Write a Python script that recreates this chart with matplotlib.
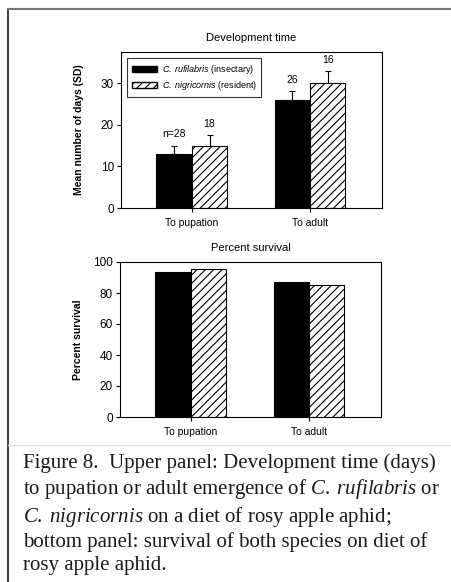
import matplotlib
matplotlib.use("Agg")
import matplotlib.pyplot as plt
from matplotlib.lines import Line2D
from matplotlib.patches import Patch
import numpy as np

# data
stages = ["To pupation", "To adult"]
dev_rufilabris = [13, 26]
dev_rufilabris_sd = [2.0, 2.1]
dev_nigricornis = [15, 30]
dev_nigricornis_sd = [2.6, 2.9]
dev_n_labels = [["n=28", "26"], ["18", "16"]]
surv_rufilabris = [93.5, 87]
surv_nigricornis = [95.3, 85]

# sf -> sans italic (legend), it -> serif italic (caption)
legend_labels = [r"$\mathsf{C.\;rufilabris}$ (insectary)",
                 r"$\mathsf{C.\;nigricornis}$ (resident)"]

caption = ("Figure 8.  Upper panel: Development time (days)\n"
           "to pupation or adult emergence of $\\mathit{C.\\;rufilabris}$ or\n"
           "$\\mathit{C.\\;nigricornis}$ on a diet of rosy apple aphid;\n"
           "bottom panel: survival of both species on diet of\n"
           "rosy apple aphid.")

plt.rcParams['font.family'] = ['Liberation Sans', 'DejaVu Sans']
plt.rcParams['mathtext.fontset'] = 'custom'
plt.rcParams['mathtext.it'] = 'Liberation Serif:italic'
plt.rcParams['mathtext.rm'] = 'Liberation Serif'
plt.rcParams['mathtext.sf'] = 'Liberation Sans:italic'
plt.rcParams['hatch.linewidth'] = 0.8

W, H = 451, 582
fig = plt.figure(figsize=(W / 100, H / 100), dpi=100)

def box(l, t, r, b):
    return [l / W, 1 - b / H, (r - l) / W, (b - t) / H]

x = np.arange(len(stages))
bw = 0.3

def draw_panel(ax, a, b, ylim, yticks, title, ylabel):
    ax.bar(x - bw / 2, a, bw, color="black", edgecolor="black", linewidth=0.8)
    ax.bar(x + bw / 2, b, bw, color="white", edgecolor="black",
           hatch="////", linewidth=0.8)
    ax.set_xlim(-0.6, 1.61)
    ax.set_ylim(*ylim)
    ax.set_yticks(yticks)
    ax.set_xticks(x)
    ax.set_xticklabels(stages, fontsize=7.5)
    ax.tick_params(axis="y", labelsize=8.5, length=3, width=0.8, pad=2)
    ax.tick_params(axis="x", length=3, width=0.8, pad=4)
    ax.set_title(title, fontsize=8, pad=8)
    ax.set_ylabel(ylabel, fontsize=7.5, fontweight="bold")
    ax.yaxis.set_label_coords(-37 / 261, 0.5)
    for s in ax.spines.values():
        s.set_linewidth(0.8)

# upper panel: development time
ax1 = fig.add_axes(box(121, 52, 382, 208))
draw_panel(ax1, dev_rufilabris, dev_nigricornis, (0, 37.5), [0, 10, 20, 30],
           "Development time", "Mean number of days (SD)")
ax1.errorbar(x - bw / 2, dev_rufilabris, yerr=[np.zeros(2), dev_rufilabris_sd],
             fmt="none", ecolor="black", elinewidth=0.8, capsize=2.5, capthick=0.8)
ax1.errorbar(x + bw / 2, dev_nigricornis, yerr=[np.zeros(2), dev_nigricornis_sd],
             fmt="none", ecolor="black", elinewidth=0.8, capsize=2.5, capthick=0.8)
for i in range(len(stages)):
    ax1.text(x[i] - bw / 2, dev_rufilabris[i] + dev_rufilabris_sd[i] + 1.5,
             dev_n_labels[0][i], ha="center", va="bottom", fontsize=7.5)
    ax1.text(x[i] + bw / 2, dev_nigricornis[i] + dev_nigricornis_sd[i] + 1.5,
             dev_n_labels[1][i], ha="center", va="bottom", fontsize=7.5)
handles = [Patch(facecolor="black", edgecolor="black"),
           Patch(facecolor="white", edgecolor="black", hatch="////")]
leg = ax1.legend(handles, legend_labels, loc="upper left", fontsize=6.5,
                 frameon=True, fancybox=False, edgecolor="black",
                 handlelength=2.8, handleheight=0.6, handletextpad=0.5,
                 borderaxespad=0.7, labelspacing=0.4, borderpad=0.5)
leg.get_frame().set_linewidth(0.8)

# lower panel: survival
ax2 = fig.add_axes(box(120, 262, 381, 417))
draw_panel(ax2, surv_rufilabris, surv_nigricornis, (0, 100),
           [0, 20, 40, 60, 80, 100], "Percent survival", "Percent survival")

# caption
fig.text(23 / W, 1 - 453 / H, caption, ha="left", va="top",
         fontsize=15, family=["Liberation Serif", "DejaVu Serif"],
         linespacing=1.24, color="#1a1a1a")

# page frame lines
fig.add_artist(Line2D([8 / W, 8 / W], [0, 1 - 9 / H], transform=fig.transFigure,
                      color="#444444", linewidth=1.5))
fig.add_artist(Line2D([8 / W, 1], [1 - 9 / H, 1 - 9 / H], transform=fig.transFigure,
                      color="#777777", linewidth=1.5))
fig.add_artist(Line2D([8 / W, 1], [1 - 445 / H, 1 - 445 / H], transform=fig.transFigure,
                      color="#dddddd", linewidth=1.0))

fig.savefig("out.png", dpi=100)
